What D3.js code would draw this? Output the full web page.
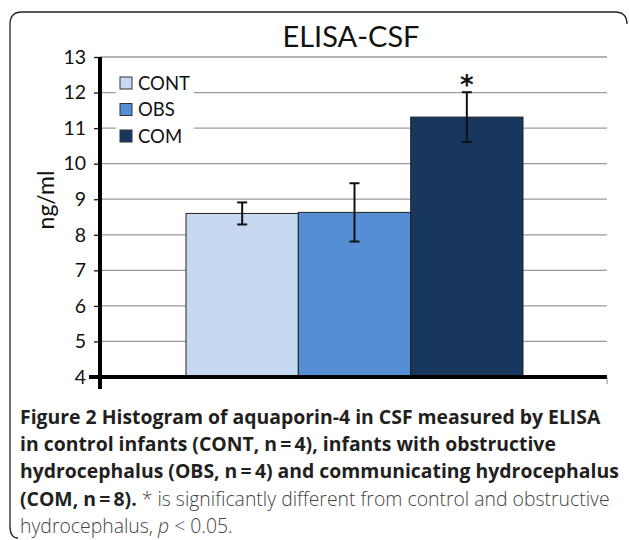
<!DOCTYPE html>
<html lang="en">
<head>
<meta charset="utf-8">
<title>ELISA-CSF</title>
<style>
    body { margin: 0; background: #fff; }
    svg text { font-family: Lato, "Open Sans", sans-serif; }
    .caption text { font-family: "Open Sans", "Noto Sans", sans-serif; }
</style>
</head>
<body>
<svg id="chart" width="629" height="540"></svg>
<script src="https://d3js.org/d3.v7.min.js"></script>
<script>
    // values (ng/ml)
    var groups = ["CONT", "OBS", "COM"];
    var means = [8.6, 8.63, 11.31];
    var errors = [0.31, 0.82, 0.70];
    var colors = ["#c6d9f1", "#558ed5", "#17375e"];
    var yTicks = [4, 5, 6, 7, 8, 9, 10, 11, 12, 13];

    var svg = d3.select("#chart");

    // frame: top edge and left edge with rounded corners
    svg.append("path")
        .attr("d", "M627,24 Q627,12 615,12 L22,12 Q10,12 10,24 L10,526 Q10,538 18,538")
        .attr("fill", "none")
        .attr("stroke", "#222")
        .attr("stroke-width", 1.3);

    var x0 = 100, x1 = 607;
    var y = d3.scaleLinear().domain([4, 13]).range([377, 57]);
    var x = d3.scaleBand().domain(groups).range([186, 523]);

    // gridlines
    svg.append("g").selectAll("line")
        .data(yTicks.filter(d => d > 4))
        .join("line")
        .attr("x1", x0).attr("x2", x1)
        .attr("y1", d => y(d)).attr("y2", d => y(d))
        .attr("stroke", "#9a9a9a").attr("stroke-width", 1.3);

    // legend with white background
    var legend = svg.append("g").attr("transform", "translate(116,70)");
    legend.append("rect").attr("width", 78).attr("height", 80).attr("fill", "#fff");
    var li = legend.selectAll("g.item").data(groups).join("g")
        .attr("transform", (d, i) => "translate(4," + (7 + i * 26.5) + ")");
    li.append("rect")
        .attr("width", 12).attr("height", 12)
        .attr("fill", (d, i) => colors[i])
        .attr("stroke", "#333").attr("stroke-width", 1);
    li.append("text")
        .attr("x", 18).attr("y", 6).attr("dy", "0.36em")
        .attr("font-size", 18.5).attr("fill", "#111")
        .text(d => d);

    // bars
    svg.append("g").selectAll("rect")
        .data(groups)
        .join("rect")
        .attr("x", d => x(d))
        .attr("width", x.bandwidth())
        .attr("y", (d, i) => y(means[i]))
        .attr("height", (d, i) => y(4) - y(means[i]))
        .attr("fill", (d, i) => colors[i])
        .attr("stroke", "#222").attr("stroke-width", 1);

    // error bars
    var eb = svg.append("g").attr("stroke", "#111").attr("stroke-width", 2);
    groups.forEach(function(g, i) {
        var cx = x(g) + x.bandwidth() / 2;
        var top = y(means[i] + errors[i]), bot = y(means[i] - errors[i]);
        eb.append("line").attr("x1", cx).attr("x2", cx).attr("y1", top).attr("y2", bot);
        eb.append("line").attr("x1", cx - 5).attr("x2", cx + 5).attr("y1", top).attr("y2", top);
        eb.append("line").attr("x1", cx - 5).attr("x2", cx + 5).attr("y1", bot).attr("y2", bot);
    });

    // significance star
    svg.append("text")
        .attr("x", x("COM") + x.bandwidth() / 2)
        .attr("y", y(means[2] + errors[2]) + 2)
        .attr("text-anchor", "middle")
        .attr("font-size", 26).attr("font-weight", "bold").attr("fill", "#111")
        .style("font-family", "'DejaVu Sans', sans-serif")
        .text("*");

    // y axis
    var yAxis = svg.append("g")
        .attr("transform", "translate(" + x0 + ",0)")
        .call(d3.axisLeft(y).tickValues(yTicks).tickSize(6).tickPadding(8).tickFormat(d3.format("d")));
    yAxis.select(".domain").remove();
    yAxis.selectAll(".tick line").attr("stroke", "#111").attr("stroke-width", 1.3);
    yAxis.selectAll(".tick text").attr("font-size", 19.5).attr("fill", "#111")
        .style("font-family", "Lato, sans-serif");

    svg.append("line")
        .attr("x1", x0).attr("x2", x0).attr("y1", y(13)).attr("y2", 389)
        .attr("stroke", "#000").attr("stroke-width", 4);
    svg.append("line")
        .attr("x1", 89).attr("x2", x1).attr("y1", y(4)).attr("y2", y(4))
        .attr("stroke", "#000").attr("stroke-width", 4);
    svg.append("line")
        .attr("x1", x1).attr("x2", x1).attr("y1", y(4)).attr("y2", 384)
        .attr("stroke", "#888").attr("stroke-width", 1);

    // title and axis label
    svg.append("text")
        .attr("x", 351).attr("y", 47)
        .attr("text-anchor", "middle")
        .attr("font-size", 29).attr("fill", "#111")
        .text("ELISA-CSF");
    svg.append("text")
        .attr("transform", "translate(54,200) rotate(-90)")
        .attr("text-anchor", "middle")
        .attr("font-size", 23).attr("fill", "#111")
        .text("ng/ml");

    // caption
    var cap = svg.append("g").attr("class", "caption");
    var lines = [
        [{t: "Figure 2 ", b: true}, {t: "Histogram of aquaporin-4 in CSF measured by ELISA", b: true}],
        [{t: "in control infants (CONT, n\u2009=\u20094), infants with obstructive", b: true}],
        [{t: "hydrocephalus (OBS, n\u2009=\u20094) and communicating hydrocephalus", b: true}],
        [{t: "(COM, n\u2009=\u20098). ", b: true}, {t: "* is significantly different from control and obstructive"}],
        [{t: "hydrocephalus, "}, {t: "p", i: true}, {t: " < 0.05."}]
    ];
    lines.forEach(function(parts, k) {
        var t = cap.append("text")
            .attr("x", 20).attr("y", 424 + k * 27.2)
            .attr("font-size", 19.4);
        parts.forEach(function(p) {
            t.append("tspan")
                .attr("font-weight", p.b ? "bold" : "300")
                .attr("font-style", p.i ? "italic" : "normal")
                .attr("fill", p.b ? "#231f20" : "#444")
                .text(p.t);
        });
    });
</script>
</body>
</html>
